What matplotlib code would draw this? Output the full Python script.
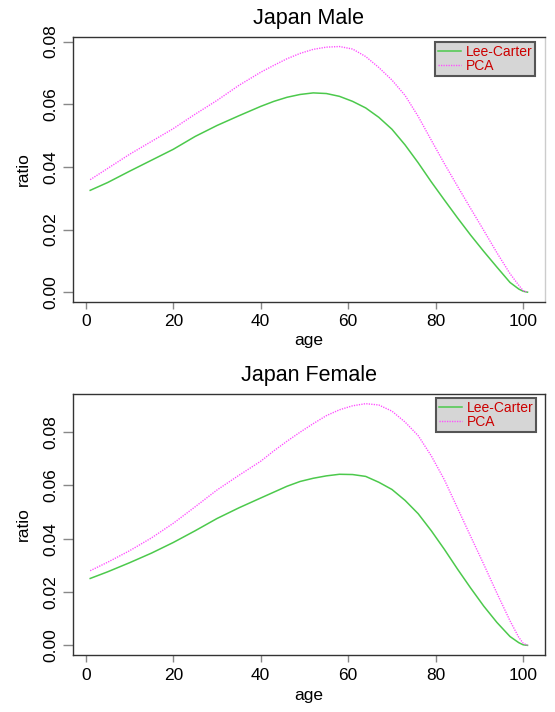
import matplotlib
matplotlib.use("Agg")
import matplotlib.pyplot as plt

plt.rcParams["font.family"] = ["Liberation Sans", "DejaVu Sans"]

# === Datos ===
ages = [1, 5, 10, 15, 20, 25, 30, 35, 40, 43, 46, 49, 52, 55, 58, 61, 64, 67, 70,
        73, 76, 79, 82, 85, 88, 91, 94, 97, 99, 100, 101]

male_lc = [0.0325, 0.0350, 0.0386, 0.0421, 0.0456, 0.0497, 0.0532, 0.0563, 0.0593, 0.0609,
           0.0622, 0.0631, 0.0636, 0.0634, 0.0625, 0.0609, 0.0588, 0.0558, 0.0520, 0.0470,
           0.0413, 0.0352, 0.0294, 0.0237, 0.0182, 0.0130, 0.0080, 0.0031, 0.0010, 0.0003, 0.0]
male_pca = [0.0359, 0.0395, 0.0440, 0.0481, 0.0522, 0.0568, 0.0612, 0.0660, 0.0702, 0.0724,
            0.0745, 0.0762, 0.0775, 0.0782, 0.0784, 0.0776, 0.0752, 0.0717, 0.0677, 0.0628,
            0.0561, 0.0485, 0.0410, 0.0338, 0.0267, 0.0197, 0.0126, 0.0059, 0.0022, 0.0005, 0.0]

female_lc = [0.0251, 0.0276, 0.0310, 0.0346, 0.0386, 0.0430, 0.0476, 0.0516, 0.0553, 0.0575,
             0.0597, 0.0615, 0.0627, 0.0636, 0.0642, 0.0641, 0.0634, 0.0612, 0.0585, 0.0544,
             0.0494, 0.0430, 0.0360, 0.0286, 0.0215, 0.0147, 0.0086, 0.0033, 0.0010, 0.0002, 0.0]
female_pca = [0.0280, 0.0312, 0.0355, 0.0403, 0.0458, 0.0520, 0.0583, 0.0638, 0.0691, 0.0730,
              0.0766, 0.0800, 0.0832, 0.0862, 0.0884, 0.0899, 0.0907, 0.0902, 0.0879, 0.0838,
              0.0787, 0.0711, 0.0621, 0.0515, 0.0409, 0.0304, 0.0196, 0.0092, 0.0030, 0.0008, 0.0]

panels = [
    ("Japan Male", male_lc, male_pca),
    ("Japan Female", female_lc, female_pca),
]
series_names = ["Lee-Carter", "PCA"]
x_ticks = [0, 20, 40, 60, 80, 100]
y_ticks = [0.00, 0.02, 0.04, 0.06, 0.08]

W, H = 555, 712
fig = plt.figure(figsize=(W / 100, H / 100), dpi=100)

# posiciones en pixeles: (izq, der, arriba, abajo)
boxes = [(72.7, 545, 36.7, 302), (72.7, 545, 394, 655)]
legend_anchor = [(0.979, 0.979), (0.981, 0.983)]
xlabel_y = [-0.118, -0.128]

for i, (title, lc, pca) in enumerate(panels):
    l, r, t, b = boxes[i]
    ax = fig.add_axes([l / W, 1 - b / H, (r - l) / W, (b - t) / H])
    ax.plot(ages, lc, color="#4cc94c", lw=1.1, label=series_names[0])
    ax.plot(ages, pca, color="#ff4cff", lw=1.0, ls=(0, (0.9, 0.9)), label=series_names[1])

    ymax = max(max(lc), max(pca))
    ax.set_xlim(-3, 105)
    ax.set_ylim(-0.04 * ymax, 1.04 * ymax)
    ax.set_xticks(x_ticks)
    ax.set_yticks(y_ticks)
    ax.set_yticklabels([f"{v:.2f}" for v in y_ticks], rotation=90, va="center")

    ax.tick_params(axis="x", length=5, width=1, color="#888888", pad=4, labelsize=12.5)
    ax.tick_params(axis="y", length=7, width=1, color="#888888", pad=3.5, labelsize=12.5)
    for s in ax.spines.values():
        s.set_color("#333333")
        s.set_linewidth(1.0)
    if i == 0:
        ax.spines["right"].set_color("#cccccc")

    ax.set_title(title, fontsize=15.5, pad=9)
    ax.set_xlabel("age", fontsize=12.5)
    ax.set_ylabel("ratio", fontsize=12.5)
    ax.xaxis.set_label_coords(0.5, xlabel_y[i])
    ax.yaxis.set_label_coords(-0.089, 0.5)

    leg = ax.legend(loc="upper right", bbox_to_anchor=legend_anchor[i], borderaxespad=0,
                    fontsize=10, fancybox=False, framealpha=1,
                    facecolor="#d6d6d6", edgecolor="#555555", handlelength=1.65,
                    handletextpad=0.35, labelspacing=0.0, borderpad=0.2)
    leg.get_frame().set_linewidth(1.5)
    for txt in leg.get_texts():
        txt.set_color("#cc0000")

fig.savefig("out.png", dpi=100)
plt.close()
